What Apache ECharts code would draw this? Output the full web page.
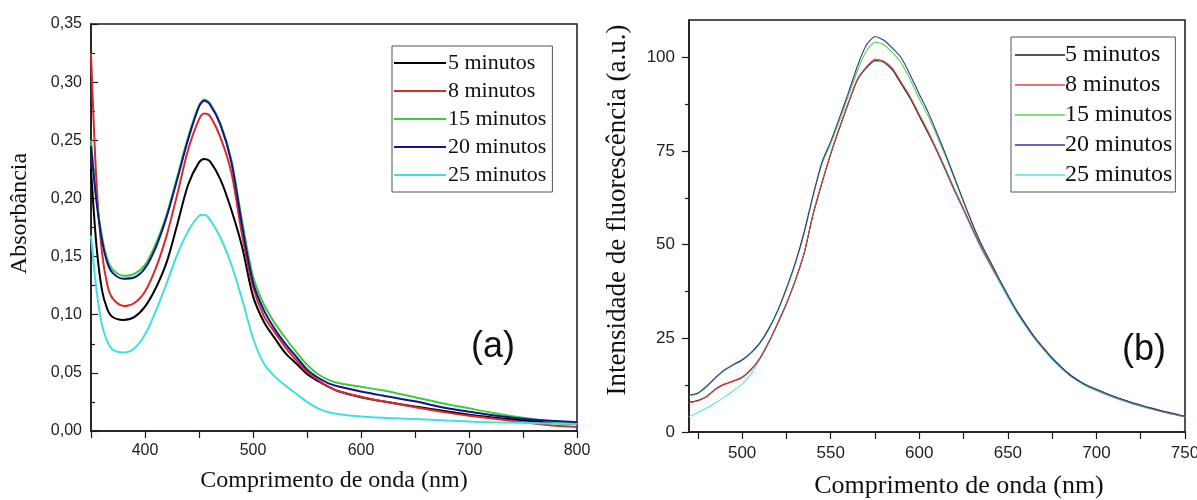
<!DOCTYPE html>
<html>
<head>
<meta charset="utf-8">
<script src="https://cdn.jsdelivr.net/npm/echarts@6/dist/echarts.min.js"></script>
<style>
  html, body { margin: 0; padding: 0; background: #fff; }
  #chart { width: 1197px; height: 500px; }
</style>
</head>
<body>
<div id="chart"></div>
<script>
// (a) absorbance spectra, (b) fluorescence spectra
var seriesNames = ['5 minutos', '8 minutos', '15 minutos', '20 minutos', '25 minutos'];

// ---- panel (a) ----
var absNm = [350, 355, 360, 365, 370, 380, 390, 400, 410, 420, 430, 440, 450, 455, 460, 470, 480, 490,
  500, 510, 520, 530, 540, 550, 560, 570, 580, 600, 620, 650, 680, 700, 720, 750, 780, 800];
var abs5 = [0.225, 0.16, 0.122, 0.105, 0.098, 0.0955, 0.098, 0.107, 0.123, 0.145, 0.178, 0.212, 0.231, 0.234, 0.232, 0.216, 0.19, 0.158,
  0.116, 0.094, 0.080, 0.067, 0.058, 0.049, 0.043, 0.038, 0.034, 0.029, 0.0255, 0.021, 0.0168, 0.014, 0.0118, 0.009, 0.0068, 0.0058];
var abs8 = [0.325, 0.215, 0.155, 0.126, 0.114, 0.1075, 0.11, 0.12, 0.14, 0.168, 0.204, 0.242, 0.268, 0.273, 0.271, 0.252, 0.222, 0.168,
  0.124, 0.099, 0.085, 0.072, 0.061, 0.051, 0.044, 0.038, 0.034, 0.0295, 0.0255, 0.0205, 0.0158, 0.0132, 0.011, 0.0075, 0.0045, 0.0035];
var abs15 = [0.25, 0.2, 0.168, 0.148, 0.139, 0.1335, 0.135, 0.143, 0.161, 0.186, 0.219, 0.253, 0.28, 0.285, 0.282, 0.264, 0.233, 0.18,
  0.133, 0.109, 0.093, 0.08, 0.068, 0.057, 0.049, 0.044, 0.041, 0.038, 0.035, 0.029, 0.023, 0.0195, 0.016, 0.0115, 0.0078, 0.006];
var abs20 = [0.245, 0.198, 0.165, 0.145, 0.136, 0.131, 0.132, 0.14, 0.158, 0.184, 0.217, 0.251, 0.279, 0.284, 0.281, 0.263, 0.231, 0.176,
  0.128, 0.104, 0.088, 0.075, 0.064, 0.053, 0.046, 0.041, 0.038, 0.034, 0.0305, 0.0255, 0.0195, 0.0166, 0.0138, 0.0105, 0.0085, 0.0075];
var abs25 = [0.168, 0.122, 0.092, 0.077, 0.07, 0.0675, 0.071, 0.083, 0.103, 0.127, 0.152, 0.172, 0.185, 0.186, 0.182, 0.166, 0.143, 0.113,
  0.08, 0.058, 0.047, 0.039, 0.032, 0.025, 0.0195, 0.0162, 0.0145, 0.0125, 0.0113, 0.0103, 0.009, 0.0082, 0.0075, 0.007, 0.0065, 0.006];
var absXTicks = [350, 400, 450, 500, 550, 600, 650, 700, 750, 800];
var absXLabels = [400, 500, 600, 700, 800];

// ---- panel (b) ----
var flNm = [470, 475, 480, 485, 490, 495, 500, 505, 510, 515, 520, 525, 530, 535, 540, 545, 550, 555, 560, 565,
  570, 575, 580, 585, 590, 595, 600, 605, 610, 615, 620, 625, 630, 635, 640, 645, 650, 655, 660, 665,
  670, 675, 680, 685, 690, 695, 700, 705, 710, 715, 720, 725, 730, 735, 740, 745, 750];
var fl5 = [7.9, 8.4, 9.5, 11.5, 12.8, 13.6, 14.6, 16.7, 19.7, 24.0, 29.0, 34.3, 40.5, 47.7, 58.0, 66.4, 74.2, 81.2, 87.8, 94.0,
  97.2, 99.2, 98.8, 96.6, 92.8, 89.0, 84.4, 79.8, 75.0, 69.8, 64.5, 59.5, 54.3, 49.4, 45.0, 40.7, 36.4, 32.3, 28.7, 25.3,
  22.4, 19.7, 17.4, 15.3, 13.7, 12.3, 11.3, 10.3, 9.4, 8.6, 7.8, 7.1, 6.4, 5.8, 5.2, 4.6, 4.1];
var fl8 = [7.8, 8.3, 9.4, 11.4, 12.7, 13.5, 14.5, 16.6, 19.6, 23.9, 28.9, 34.2, 40.4, 47.8, 58.2, 66.6, 74.4, 81.4, 88.0, 94.2,
  97.4, 99.6, 99.0, 97.0, 93.2, 89.4, 84.8, 80.2, 75.2, 70.0, 64.6, 59.6, 54.4, 49.4, 44.9, 40.6, 36.3, 32.2, 28.6, 25.2,
  22.3, 19.6, 17.3, 15.2, 13.6, 12.2, 11.2, 10.2, 9.3, 8.5, 7.7, 7.0, 6.3, 5.7, 5.1, 4.6, 4.1];
var fl15 = [9.6, 10.2, 12.0, 14.4, 16.4, 17.8, 19.1, 21.0, 23.6, 27.3, 32.1, 38.0, 44.8, 53.0, 62.8, 71.4, 77.0, 83.2, 89.8, 96.4,
  101.6, 104.1, 103.4, 101.2, 98.4, 94.0, 89.0, 84.4, 79.0, 73.4, 67.4, 61.3, 55.4, 50.0, 45.4, 40.8, 36.4, 32.3, 28.7, 25.3,
  22.4, 19.7, 17.3, 15.2, 13.6, 12.3, 11.3, 10.3, 9.4, 8.6, 7.8, 7.1, 6.4, 5.8, 5.2, 4.7, 4.1];
var fl20 = [9.8, 10.4, 12.3, 14.6, 16.6, 18.0, 19.3, 21.2, 23.8, 27.6, 32.4, 38.4, 45.2, 53.4, 63.2, 72.0, 77.6, 84.0, 90.6, 97.6,
  103.2, 105.6, 104.6, 102.4, 99.8, 95.2, 90.2, 85.4, 79.8, 74.0, 67.8, 61.6, 55.6, 50.2, 45.6, 41.0, 36.6, 32.4, 28.8, 25.4,
  22.5, 19.8, 17.4, 15.3, 13.7, 12.4, 11.4, 10.4, 9.5, 8.7, 7.9, 7.2, 6.5, 5.9, 5.3, 4.8, 4.2];
var fl25 = [4.1, 5.2, 6.4, 7.8, 9.3, 11.0, 12.8, 15.4, 19.4, 23.7, 28.6, 34.0, 40.2, 47.6, 58.2, 66.5, 74.3, 81.2, 87.8, 93.8,
  97.0, 98.9, 98.6, 96.6, 92.8, 88.9, 84.2, 79.6, 74.7, 69.4, 64.0, 59.0, 53.8, 48.8, 44.4, 40.1, 35.8, 31.8, 28.2, 24.9,
  22.0, 19.3, 17.0, 15.0, 13.4, 12.0, 11.0, 10.0, 9.1, 8.3, 7.5, 6.8, 6.2, 5.6, 5.0, 4.5, 4.0];
var flXTicks = [475, 500, 525, 550, 575, 600, 625, 650, 675, 700, 725, 750];
var flXLabels = [500, 550, 600, 650, 700, 750];
var flYLabels = [0, 25, 50, 75, 100];
var flYMinor = [12.5, 37.5, 62.5, 87.5];

var absColors = ['#000000', '#d92b2b', '#3ccc3c', '#14148c', '#40e0e0'];
var flColors = ['#1e1e1e', '#e04444', '#4fd64f', '#34348e', '#55e6e6'];

var serif = 'Liberation Serif';
var sans = 'Liberation Sans';
var frame = '#1a1a1a';

function pairs(xs, ys) {
  return xs.map(function (x, i) { return [x, ys[i]]; });
}

var absData = [abs5, abs8, abs15, abs20, abs25];
var flData = [fl5, fl8, fl15, fl20, fl25];
var flZ = [3, 3, 4, 5, 2];

var series = [];
for (var i = 0; i < seriesNames.length; i++) {
  series.push({
    name: seriesNames[i],
    type: 'line',
    xAxisIndex: 0,
    yAxisIndex: 0,
    symbol: 'none',
    smooth: 0.3,
    color: absColors[i],
    lineStyle: { width: 2, color: absColors[i] },
    data: pairs(absNm, absData[i])
  });
}
for (var j = 0; j < seriesNames.length; j++) {
  series.push({
    name: seriesNames[j],
    type: 'line',
    xAxisIndex: 1,
    yAxisIndex: 1,
    symbol: 'none',
    smooth: 0.2,
    z: flZ[j],
    color: flColors[j],
    lineStyle: { width: 1.1, color: flColors[j] },
    data: pairs(flNm, flData[j])
  });
}

var tickLabel = { fontFamily: sans, fontSize: 16, color: '#222' };

var option = {
  animation: false,
  backgroundColor: '#fff',
  grid: [
    { left: 91, top: 24, width: 486, height: 407, outerBoundsMode: 'none', show: true, borderColor: frame, borderWidth: 1.5, backgroundColor: 'transparent' },
    { left: 689, top: 20, width: 496, height: 412, outerBoundsMode: 'none', show: true, borderColor: frame, borderWidth: 1.5, backgroundColor: 'transparent' }
  ],
  xAxis: [
    {
      gridIndex: 0, type: 'value', min: 350, max: 800, interval: 50,
      name: 'Comprimento de onda (nm)', nameLocation: 'middle', nameGap: 38,
      nameTextStyle: { fontFamily: serif, fontSize: 24, color: '#111' },
      axisLine: { lineStyle: { color: frame, width: 1.5 } },
      axisTick: { length: 7, customValues: absXTicks, lineStyle: { color: frame, width: 1.2 } },
      axisLabel: Object.assign({ margin: 12, customValues: absXLabels }, tickLabel),
      splitLine: { show: false }
    },
    {
      gridIndex: 1, type: 'value', min: 470, max: 750, interval: 25,
      name: 'Comprimento de onda (nm)', nameLocation: 'middle', nameGap: 41,
      nameTextStyle: { fontFamily: serif, fontSize: 26, color: '#111', padding: [0, 0, 0, 44] },
      axisLine: { lineStyle: { color: frame, width: 1.5 } },
      axisTick: { length: 7, customValues: flXTicks, lineStyle: { color: frame, width: 1.2 } },
      axisLabel: Object.assign({ margin: 13, customValues: flXLabels }, tickLabel, { fontSize: 17 }),
      splitLine: { show: false }
    }
  ],
  yAxis: [
    {
      gridIndex: 0, type: 'value', min: 0, max: 0.35, interval: 0.05,
      name: 'Absorbância', nameLocation: 'middle', nameGap: 59,
      nameTextStyle: { fontFamily: serif, fontSize: 24, color: '#111', padding: [0, 0, 0, 28] },
      axisLine: { show: true, lineStyle: { color: frame, width: 1.5 } },
      axisTick: { show: true, inside: true, length: 7, lineStyle: { color: frame, width: 1.2 } },
      minorTick: { show: true, splitNumber: 2, length: 4, lineStyle: { color: frame, width: 1.2 } },
      axisLabel: Object.assign({
        margin: 9,
        formatter: function (v) { return v.toFixed(2).replace('.', ','); }
      }, tickLabel),
      splitLine: { show: false }
    },
    {
      gridIndex: 1, type: 'value', min: 0, max: 110, interval: 25,
      name: 'Intensidade de fluorescência (a.u.)', nameLocation: 'middle', nameGap: 58,
      nameTextStyle: { fontFamily: serif, fontSize: 27, color: '#111', padding: [0, 0, 0, 32] },
      axisLine: { show: true, lineStyle: { color: frame, width: 1.5 } },
      axisTick: { show: true, length: 7, customValues: flYLabels, lineStyle: { color: frame, width: 1.2 } },
      axisLabel: Object.assign({ margin: 14, customValues: flYLabels }, tickLabel, { fontSize: 17 }),
      splitLine: { show: false }
    },
    {
      // minor ticks of panel (b)
      gridIndex: 1, type: 'value', min: 0, max: 110, position: 'left',
      axisLine: { show: false },
      axisTick: { show: true, length: 4, customValues: flYMinor, lineStyle: { color: frame, width: 1.2 } },
      axisLabel: { show: false },
      splitLine: { show: false }
    }
  ],
  legend: [
    {
      orient: 'vertical', left: 392, top: 46,
      data: seriesNames,
      icon: 'rect', itemWidth: 52, itemHeight: 2, itemGap: 6,
      padding: [6, 6, 6, 2],
      borderColor: '#555', borderWidth: 1, backgroundColor: '#fff',
      textStyle: { fontFamily: serif, fontSize: 22, lineHeight: 22, color: '#111', padding: [0, 0, 0, -3] }
    },
    {
      orient: 'vertical', left: 1011, top: 37,
      data: seriesNames.map(function (n, k) { return { name: n, itemStyle: { color: flColors[k] } }; }),
      icon: 'rect', itemWidth: 50, itemHeight: 1.5, itemGap: 6,
      padding: [6, 3, 5, 4],
      borderColor: '#555', borderWidth: 1, backgroundColor: '#fff',
      textStyle: { fontFamily: serif, fontSize: 24, lineHeight: 23, color: '#111', padding: [0, 0, 0, -5] }
    }
  ],
  graphic: [
    { type: 'text', left: 471, top: 329, style: { text: '(a)', font: '36px "Liberation Sans"', fill: '#111' } },
    { type: 'text', left: 1122, top: 332, style: { text: '(b)', font: '36px "Liberation Sans"', fill: '#111' } }
  ],
  series: series
};

var myChart = echarts.init(document.getElementById('chart'));
myChart.setOption(option);
</script>
</body>
</html>
